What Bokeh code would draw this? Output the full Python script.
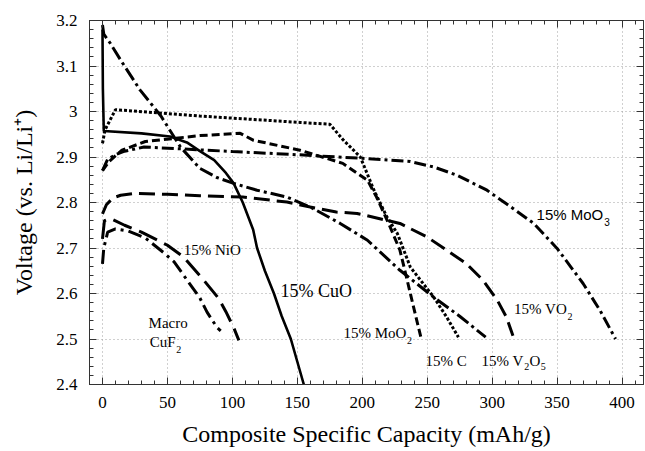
from bokeh.plotting import figure
from bokeh.models import Range1d, SingleIntervalTicker, LinearAxis, Label
from bokeh.embed import file_html
from bokeh.resources import INLINE

# ---------------- data ----------------
cuo_x = [0, 0.3, 1, 30, 52, 65, 75, 86, 95, 101, 108, 116, 119, 125, 132, 138, 145, 150, 155]
cuo_y = [3.18, 3.05, 2.957, 2.952, 2.945, 2.932, 2.913, 2.893, 2.865, 2.842, 2.80, 2.74, 2.70, 2.65, 2.60, 2.55, 2.50, 2.45, 2.40]

v2o5_x = [0, 1, 6, 14, 29, 45, 60, 75, 88, 101, 119, 142, 160, 183, 204, 229, 255, 275, 295]
v2o5_y = [3.19, 3.17, 3.15, 3.113, 3.047, 2.99, 2.922, 2.875, 2.855, 2.842, 2.827, 2.812, 2.79, 2.754, 2.717, 2.651, 2.592, 2.55, 2.504]

moo3_x = [0, 4, 10, 16, 32, 60, 100, 150, 200, 237, 255, 273, 296, 316, 332, 350, 370, 383, 395]
moo3_y = [2.87, 2.895, 2.905, 2.912, 2.922, 2.918, 2.912, 2.905, 2.897, 2.89, 2.878, 2.86, 2.827, 2.787, 2.754, 2.699, 2.622, 2.563, 2.50]

moo2_x = [0, 5, 15, 33, 75, 106, 116, 152, 185, 204, 211, 221.5, 229, 234, 239.5, 245]
moo2_y = [2.87, 2.89, 2.915, 2.934, 2.947, 2.952, 2.937, 2.915, 2.886, 2.849, 2.812, 2.746, 2.695, 2.636, 2.57, 2.505]

vo2_x = [0, 3, 8, 14, 25, 50, 75, 108, 142, 160, 180, 196, 229, 250, 265, 280, 293, 304, 311, 316]
vo2_y = [2.775, 2.795, 2.81, 2.816, 2.82, 2.818, 2.815, 2.812, 2.801, 2.79, 2.779, 2.776, 2.754, 2.724, 2.695, 2.666, 2.629, 2.585, 2.548, 2.507]

c_x = [0, 2, 10, 75, 152, 175, 185.5, 198.5, 209, 219, 227, 237, 255, 265, 274]
c_y = [2.93, 2.96, 3.004, 2.99, 2.976, 2.972, 2.937, 2.90, 2.827, 2.768, 2.732, 2.658, 2.592, 2.548, 2.504]

nio_x = [0, 1.5, 6, 17, 30, 50, 62.5, 78, 89.5, 95, 101, 105]
nio_y = [2.72, 2.76, 2.765, 2.75, 2.735, 2.706, 2.68, 2.629, 2.589, 2.56, 2.525, 2.497]

cuf2_x = [0, 1, 4, 10, 20, 33, 47, 55, 68, 75, 80.5, 88, 91]
cuf2_y = [2.665, 2.70, 2.735, 2.742, 2.737, 2.722, 2.69, 2.67, 2.618, 2.59, 2.559, 2.526, 2.518]

x_label = "Composite Specific Capacity (mAh/g)"
y_label = "Voltage (vs. Li/Li\u207a)"

# ---------------- figure ----------------
p = figure(width=645, height=451, output_backend="svg", toolbar_location=None,
           x_range=Range1d(-10, 416.5), y_range=Range1d(2.4, 3.2),
           min_border_left=89, min_border_right=2, min_border_top=20, min_border_bottom=67)
p.background_fill_color = "white"
p.border_fill_color = "white"
p.outline_line_color = "#333333"
p.outline_line_width = 1

xt = SingleIntervalTicker(interval=50, num_minor_ticks=5)
yt = SingleIntervalTicker(interval=0.1, num_minor_ticks=5)
p.xaxis.ticker = xt
p.yaxis.ticker = yt
p.xgrid.ticker = xt
p.ygrid.ticker = yt
for g in (p.xgrid, p.ygrid):
    g.grid_line_color = "#a0a0a0"
    g.grid_line_dash = "1 3"
    g.grid_line_width = 1

for ax in (p.xaxis[0], p.yaxis[0]):
    ax.major_tick_in = 7
    ax.major_tick_out = 0
    ax.minor_tick_in = 4
    ax.minor_tick_out = 0
    ax.axis_line_color = "#333333"
    ax.major_tick_line_color = "#333333"
    ax.minor_tick_line_color = "#333333"
    ax.major_label_text_font = "Liberation Serif"
    ax.major_label_text_font_size = "17px"
    ax.major_label_text_color = "black"
    ax.axis_label_text_font = "Liberation Serif"
    ax.axis_label_text_font_size = "24px"
    ax.axis_label_text_font_style = "normal"
    ax.axis_label_text_color = "black"
    ax.major_label_standoff = 12

p.xaxis.axis_label = x_label
p.yaxis.axis_label = y_label
p.xaxis.axis_label_standoff = 10
p.yaxis.axis_label_standoff = 16

# mirror axes (ticks only) on top and right
for loc in ("above", "right"):
    t = xt if loc == "above" else yt
    a = LinearAxis(ticker=t, major_tick_in=7, major_tick_out=0, minor_tick_in=4, minor_tick_out=0,
                   axis_line_color="#333333", major_tick_line_color="#333333",
                   minor_tick_line_color="#333333", major_label_text_color=None,
                   major_label_text_font_size="1px", major_label_standoff=0)
    p.add_layout(a, loc)

# ---------------- curves ----------------
W = 3
p.line(cuo_x, cuo_y, line_color="black", line_width=2.6)
p.line(v2o5_x, v2o5_y, line_color="black", line_width=W, line_dash="14 4 3 4")
p.line(moo3_x, moo3_y, line_color="black", line_width=W, line_dash="12 4 3 4")
p.line(moo2_x, moo2_y, line_color="black", line_width=W, line_dash="8 4")
p.line(vo2_x, vo2_y, line_color="black", line_width=W, line_dash="16 7")
p.line(c_x, c_y, line_color="black", line_width=W, line_dash="3 2")
p.line(nio_x, nio_y, line_color="black", line_width=W, line_dash="20 8")
p.line(cuf2_x, cuf2_y, line_color="black", line_width=W, line_dash="14 5 3 5")

# ---------------- labels ----------------
SERIF = "Liberation Serif"
SANS = "Liberation Sans"

def lab(x, y, t, size, align="left", font=SERIF):
    p.add_layout(Label(x=x, y=y, text=t, text_font=font, text_font_size=size,
                       text_align=align, text_baseline="alphabetic", text_color="black"))

lab(385.5, 2.7746, "15% MoO", "15px", "right", SANS)
lab(386.3, 2.757, "3", "10px", "left", SANS)
lab(62.5, 2.695, "15% NiO", "15px")
lab(137, 2.606, "15% CuO", "18px")
lab(35.5, 2.535, "Macro", "15px")
lab(56.3, 2.494, "CuF", "15px", "right")
lab(56.8, 2.477, "2", "10px")
lab(234, 2.5134, "15% MoO", "15px", "right")
lab(234.5, 2.497, "2", "10px")
lab(248.6, 2.452, "15% C", "15px")
lab(324.2, 2.452, "15% V", "15px", "right")
lab(324.6, 2.4386, "2", "10px")
lab(328.8, 2.452, "O", "15px")
lab(337.4, 2.4386, "5", "10px")
lab(357.6, 2.567, "15% VO", "15px", "right")
lab(358.0, 2.549, "2", "10px")

open("out.html", "w").write(file_html(p, INLINE))
